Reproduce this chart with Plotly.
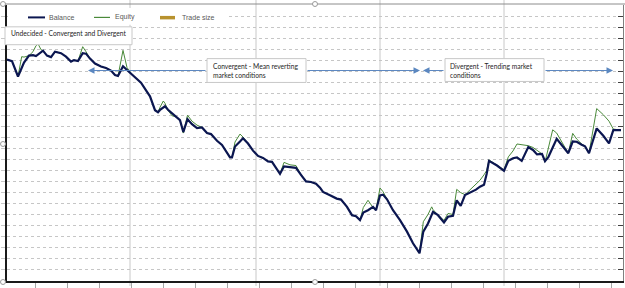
import plotly.graph_objects as go

# ---------------- data ----------------
trade = [0, 5, 11, 14.7, 17, 22, 26, 29, 31, 34,
         36, 40, 44, 48, 54, 59, 64, 67, 71, 75.7,
         79, 83, 88, 94, 99, 104, 108, 111, 116, 120,
         125, 130, 134, 139.7, 143, 148, 151, 153, 156.3, 158,
         161, 165, 170, 173, 176.3, 180.5, 185, 190, 195, 200,
         204, 210, 215, 220, 223, 225, 228, 233, 236, 241,
         246, 251, 256, 261, 265, 269, 273, 277, 283, 289,
         294, 299, 304, 309, 313, 316, 323, 329.7, 334, 340,
         345, 349, 353, 356.3, 361, 366, 369, 373, 376, 380,
         386, 393, 400, 406, 412.5, 416.3, 421, 424.7, 426, 431,
         437, 441, 446, 449.7, 453.7, 458, 463, 469, 473, 477,
         479.7, 482, 490, 497, 501.3, 506, 510, 514.7, 521.3, 526,
         530, 535, 538, 541.3, 545.7, 549.7, 556.3, 561.3, 565.7, 569.7,
         574.7, 578, 582, 589.7, 596.3, 602, 606.3, 614]

balance = [2210, 2195, 2040, 2126, 2180, 2250, 2255, 2245, 2260, 2280,
           2300, 2250, 2235, 2290, 2275, 2240, 2190, 2205, 2195, 2275,
           2270, 2220, 2170, 2140, 2125, 2100, 2055, 2045, 2143, 2105,
           2060, 2010, 1977, 1890, 1840, 1700, 1680, 1703, 1725, 1740,
           1705, 1670, 1630, 1600, 1480, 1610, 1560, 1520, 1527, 1470,
           1460, 1393, 1350, 1270, 1225, 1225, 1335, 1385, 1417, 1365,
           1293, 1240, 1220, 1185, 1180, 1120, 1060, 1135, 1130, 1120,
           1050, 983, 977, 960, 920, 877, 843, 810, 800, 727,
           643, 633, 593, 670, 693, 727, 693, 843, 850, 803,
           693, 593, 477, 360, 260, 477, 560, 640, 677, 643,
           570, 627, 637, 793, 737, 845, 870, 900, 930, 950,
           1060, 1190, 1143, 1090, 1190, 1217, 1225, 1190, 1330, 1300,
           1255, 1260, 1187, 1227, 1325, 1413, 1330, 1267, 1385, 1383,
           1353, 1337, 1267, 1517, 1443, 1367, 1500, 1500]

equity = [2210, 2195, 2040, 2240, 2235, 2250, 2290, 2350, 2370, 2310,
          2300, 2250, 2235, 2290, 2275, 2240, 2190, 2205, 2195, 2340,
          2290, 2220, 2170, 2140, 2125, 2100, 2055, 2045, 2303, 2130,
          2060, 2010, 1977, 1890, 1840, 1700, 1680, 1730, 1793, 1770,
          1700, 1645, 1630, 1600, 1470, 1650, 1590, 1550, 1527, 1470,
          1460, 1393, 1350, 1270, 1225, 1225, 1380, 1460, 1430, 1365,
          1293, 1240, 1220, 1185, 1180, 1120, 1060, 1175, 1150, 1143,
          1050, 983, 977, 960, 920, 877, 843, 810, 800, 727,
          643, 633, 593, 720, 793, 720, 700, 917, 880, 803,
          693, 593, 477, 360, 260, 577, 650, 727, 700, 643,
          590, 660, 650, 903, 870, 850, 900, 950, 995, 1050,
          1093, 1200, 1143, 1100, 1230, 1290, 1360, 1350, 1343, 1325,
          1300, 1260, 1177, 1310, 1503, 1470, 1360, 1267, 1467, 1410,
          1360, 1337, 1267, 1717, 1655, 1590, 1510, 1500]

series_names = ["Balance", "Equity", "Trade size"]
note_texts = ["Undecided - Convergent and Divergent",
              "Convergent - Mean reverting<br>market conditions",
              "Divergent - Trending market<br>conditions"]

# ---------------- geometry ----------------
W, H = 625, 288
ML, MR, MT, MB = 7, 2, 5, 5
XR = [0, 616]
YR = [-20, 2760]
PW, PH = W - ML - MR, H - MT - MB


def dx(px):
    return XR[0] + (px - ML) * (XR[1] - XR[0]) / PW


def dy(py):
    return YR[1] - (py - MT) * (YR[1] - YR[0]) / PH


def pxp(px):
    return (px - ML) / PW


def pyp(py):
    return (H - MB - py) / PH


C_BAL = "#0b1650"
C_EQ = "#4a8a3a"
C_TS = "#b8922e"
C_ARROW = "#5b87c0"

fig = go.Figure()
fig.add_trace(go.Scatter(x=trade, y=equity, mode="lines", name=series_names[1],
                         line=dict(color=C_EQ, width=1)))
fig.add_trace(go.Scatter(x=trade, y=balance, mode="lines", name=series_names[0],
                         line=dict(color=C_BAL, width=2.2)))
fig.add_trace(go.Bar(x=[None], y=[None], name=series_names[2], marker_color=C_TS,
                     yaxis="y2"))

shapes = []
# worksheet cell lines seen through the chart
for px in [130, 256, 380, 504]:
    shapes.append(dict(type="line", xref="x", yref="paper", x0=dx(px), x1=dx(px),
                       y0=pyp(H), y1=pyp(0), line=dict(color="#c8c8c8", width=1),
                       layer="between"))
# legend background
shapes.append(dict(type="rect", xref="x", yref="y", x0=dx(8), x1=dx(228),
                   y0=dy(25), y1=dy(8), fillcolor="white", line=dict(width=0),
                   layer="between"))
# chart frame top
shapes.append(dict(type="line", xref="paper", yref="paper", x0=pxp(3), x1=pxp(W),
                   y0=pyp(4), y1=pyp(4), line=dict(color="#8c8c8c", width=1)))
# legend samples
shapes.append(dict(type="line", xref="x", yref="y", x0=dx(28), x1=dx(45),
                   y0=dy(17.5), y1=dy(17.5), line=dict(color=C_BAL, width=2)))
shapes.append(dict(type="line", xref="x", yref="y", x0=dx(94), x1=dx(110),
                   y0=dy(17.5), y1=dy(17.5), line=dict(color=C_EQ, width=1.2)))
shapes.append(dict(type="rect", xref="x", yref="y", x0=dx(160), x1=dx(175),
                   y0=dy(19.5), y1=dy(16), fillcolor=C_TS, line=dict(width=0)))
# note boxes: (left, top, right, bottom) in pixels
boxes = [(5, 27, 132, 45), (207, 59, 306, 83), (445, 59, 544, 82)]
for (x0, y0, x1, y1) in boxes:
    shapes.append(dict(type="rect", xref="paper", yref="paper",
                       x0=pxp(x0), x1=pxp(x1), y0=pyp(y1), y1=pyp(y0),
                       fillcolor="white", line=dict(color="#c8c8c8", width=1)))
# selection handles
for (hx, hy) in [(3, 4), (315, 4), (3, 145), (3, 284), (315, 284)]:
    shapes.append(dict(type="circle", xref="paper", yref="paper",
                       x0=pxp(hx - 2.5), x1=pxp(hx + 2.5), y0=pyp(hy + 2.5), y1=pyp(hy - 2.5),
                       fillcolor="white", line=dict(color="#9a9a9a", width=1)))

ann = []
leg_font = dict(family="Liberation Sans, Arial, sans-serif", size=7, color="#595959")
for name, px in zip(series_names, [47, 113, 180]):
    ann.append(dict(xref="paper", yref="paper", x=pxp(px), y=pyp(17.5), text=name,
                    showarrow=False, xanchor="left", yanchor="middle", font=leg_font))

box_font = dict(family="Lato, Liberation Sans, sans-serif", size=6.7, color="#262626")
# text anchor (left, vertical middle) in pixels
text_pos = [(10, 33), (212, 71), (449, 70.5)]
for txt, (tx, ty) in zip(note_texts, text_pos):
    ann.append(dict(xref="paper", yref="paper", x=pxp(tx), y=pyp(ty), text=txt,
                    showarrow=False, xanchor="left", yanchor="middle", align="left",
                    borderpad=0, font=box_font))

# arrows (head, tail) in pixels
for head, tail in [(88, 207), (420, 306), (423, 445), (613, 544)]:
    ann.append(dict(xref="x", yref="y", axref="x", ayref="y", x=dx(head), y=dy(71),
                    ax=dx(tail), ay=dy(71), text="", showarrow=True, arrowhead=2,
                    arrowsize=1.3, arrowwidth=1, arrowcolor=C_ARROW))

fig.update_layout(
    width=W, height=H, margin=dict(l=ML, r=MR, t=MT, b=MB),
    paper_bgcolor="white", plot_bgcolor="white", showlegend=False,
    shapes=shapes, annotations=ann,
    xaxis=dict(range=XR, showgrid=False, zeroline=False, showline=True,
               linecolor="#1a1a1a", linewidth=2, ticks="outside",
               tickvals=[28 + 32 * k for k in range(19)], ticklen=5,
               tickcolor="#a6a6a6", showticklabels=False),
    yaxis=dict(range=YR, tick0=-20, dtick=111.2, showgrid=True, gridcolor="#c6c6c6",
               griddash="dot", gridwidth=1, zeroline=False, showline=True,
               linecolor="#1a1a1a", linewidth=2, ticks="outside", ticklen=4,
               tickcolor="#c8c8c8", showticklabels=False),
    yaxis2=dict(overlaying="y", side="right", range=YR, tick0=-20, dtick=111.2,
                showgrid=False, zeroline=False, showline=True, linecolor="#808080",
                linewidth=1, ticks="inside", ticklen=5, tickcolor="#404040",
                showticklabels=False),
)

fig.write_html("out.html")
